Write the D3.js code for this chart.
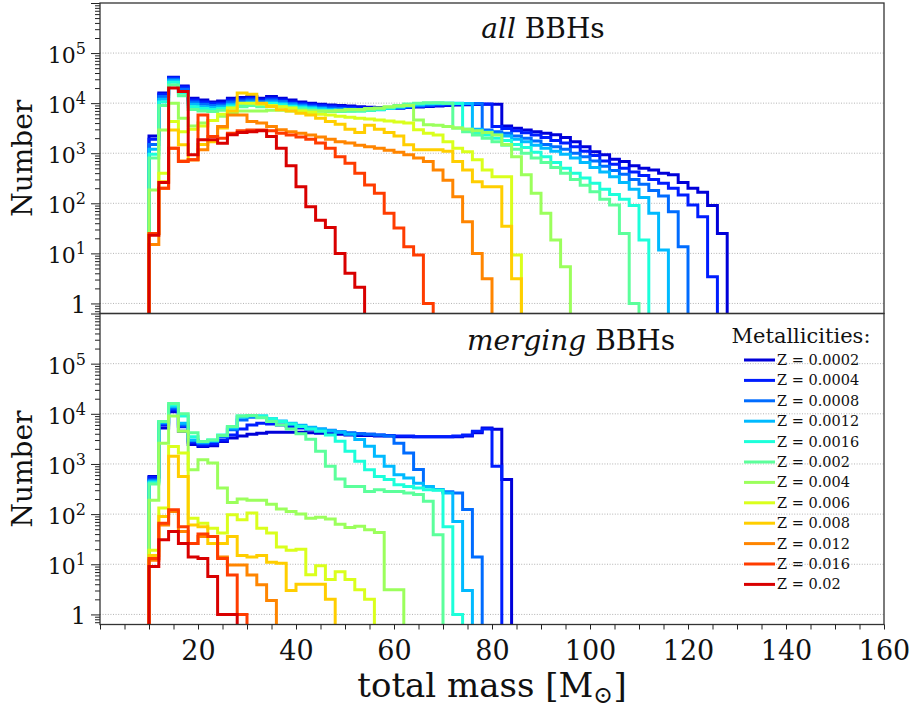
<!DOCTYPE html>
<html>
<head>
<meta charset="utf-8">
<script src="https://cdn.jsdelivr.net/npm/d3@7"></script>
<style>
  body { margin: 0; background: #fff; }
  text { font-family: "DejaVu Serif", serif; fill: #111; }
</style>
</head>
<body>
<svg id="chart" width="913" height="708"></svg>
<script>
// bin edges of the total-mass histograms (Msun)
var massEdges = [10, 12, 14, 16, 18, 20, 22, 24, 26, 28, 30, 32, 34, 36, 38, 40, 42, 44, 46, 48,
  50, 52, 54, 56, 58, 60, 62, 64, 66, 68, 70, 72, 74, 76, 78, 80, 82, 84, 86, 88,
  90, 92, 94, 96, 98, 100, 102, 104, 106, 108, 110, 112, 114, 116, 118, 120, 122, 124, 126, 128];

var metallicities = ["0.0002", "0.0004", "0.0008", "0.0012", "0.0016", "0.002",
  "0.004", "0.006", "0.008", "0.012", "0.016", "0.02"];
var colours = ["#0000d9", "#001dff", "#006cff", "#00baff", "#1cffda", "#5cff9b",
  "#9bff5c", "#daff1c", "#ffce00", "#ff8500", "#ff3c00", "#d90000"];

// counts per bin, first bin starts at 10 Msun -- all BBHs
var allZ0002 = [2200, 16000, 33000, 22000, 12500, 11500, 10500, 11000, 12500, 13000,
  13500, 12500, 13500, 12500, 11500, 10500, 10000, 9500, 9200, 9000,
  8800, 8500, 8300, 8200, 8000, 8000, 8200, 8400, 8600, 8800,
  9000, 9200, 9300, 9400, 9500, 9500, 3500, 3150, 2900, 2700,
  2500, 2330, 2050, 1700, 1350, 1070, 930, 760, 680, 565,
  500, 465, 400, 370, 260, 200, 166, 90, 25];
var allZ0004 = [1900, 15000, 32000, 21000, 11500, 10500, 9800, 10000, 11500, 12000,
  12500, 11500, 12500, 11500, 10500, 9800, 9300, 9000, 8700, 8500,
  8300, 8000, 7900, 7900, 7900, 8000, 8300, 8600, 8900, 9100,
  9300, 9400, 9500, 9500, 9600, 3400, 3100, 2800, 2550, 2300,
  2050, 1800, 1600, 1350, 1100, 900, 700, 600, 500, 420,
  360, 300, 250, 200, 147, 93, 54, 3.4];
var allZ0008 = [1500, 13500, 30000, 19000, 10500, 9500, 9000, 9200, 10500, 11000,
  11500, 10800, 11500, 10800, 9800, 9200, 8700, 8300, 8000, 7800,
  7600, 7400, 7400, 7500, 7800, 8100, 8500, 8900, 9200, 9500,
  9700, 9800, 9800, 9800, 2900, 2700, 2500, 2200, 2000, 1750,
  1500, 1350, 1200, 1000, 850, 700, 550, 450, 380, 300,
  240, 180, 140, 68, 13.5];
var allZ0012 = [1200, 12000, 28000, 17000, 9500, 8500, 8200, 8500, 9500, 10000,
  10500, 10000, 10500, 10000, 9200, 8700, 8200, 7800, 7500, 7300,
  7200, 7100, 7200, 7400, 7800, 8300, 8800, 9300, 9700, 10000,
  10000, 10000, 9800, 3000, 2700, 2400, 2200, 1900, 1700, 1450,
  1250, 1100, 950, 800, 650, 520, 420, 340, 260, 190,
  130, 63, 11.7];
var allZ0016 = [950, 10500, 26000, 16000, 8500, 7800, 7500, 7800, 8800, 9300,
  9800, 9300, 9800, 9300, 8600, 8100, 7700, 7300, 7100, 7000,
  7000, 7000, 7200, 7500, 8000, 8600, 9200, 9700, 10000, 10000,
  10000, 9800, 3000, 2600, 2300, 2000, 1800, 1500, 1300, 1050,
  850, 650, 500, 400, 320, 250, 190, 150, 120, 90,
  18.5];
var allZ002 = [800, 9000, 23000, 14000, 7500, 7000, 6800, 7200, 8000, 8500,
  9000, 8500, 9000, 8500, 8000, 7600, 7200, 6900, 6800, 6800,
  6900, 7000, 7300, 7700, 8300, 9000, 9600, 10000, 10200, 10200,
  10000, 3200, 2700, 2300, 2000, 1700, 1450, 1200, 1000, 800,
  650, 520, 400, 300, 230, 170, 120, 93, 25, 1];
var allZ004 = [185, 2900, 10000, 5000, 3500, 4000, 4500, 5500, 6500, 7000,
  7000, 7000, 7200, 7200, 7000, 7000, 7000, 7000, 7000, 7200,
  7500, 7500, 7800, 8000, 8500, 8800, 9000, 4600, 3700, 3600,
  3400, 3200, 3000, 2800, 2600, 2300, 1500, 850, 370, 158,
  63, 18.5, 5.4];
var allZ006 = [25, 400, 4300, 2700, 3000, 3500, 4500, 6000, 8000, 10000,
  10000, 9500, 9000, 8500, 8000, 7000, 6500, 6000, 5800, 5500,
  5200, 5000, 4800, 4600, 4400, 4200, 4000, 2950, 2500, 2300,
  1700, 1260, 1070, 740, 465, 340, 340, 9.3];
var allZ008 = [25, 270, 2900, 1470, 740, 1500, 1700, 3200, 7000, 16000,
  15000, 10000, 8600, 7400, 7000, 6300, 5800, 5000, 4300, 3800,
  3000, 2600, 3600, 3000, 2600, 2200, 1480, 1175, 1175, 1175,
  1100, 680, 465, 270, 215, 215, 35, 3.1];
var allZ012 = [15, 200, 1260, 700, 740, 1170, 2150, 3400, 5800, 5800,
  4300, 4000, 3400, 2950, 2700, 2500, 2300, 2100, 1900, 1700,
  1600, 1450, 1350, 1250, 1150, 1050, 930, 800, 680, 465,
  290, 135, 43, 10, 3.1];
var allZ016 = [25, 200, 1260, 680, 740, 5800, 2150, 2000, 2500, 2800,
  2900, 2900, 2800, 2500, 2300, 2100, 1900, 1600, 1260, 850,
  630, 400, 233, 158, 63, 32, 13.5, 9.3, 1];
var allZ02 = [23, 260, 20000, 17000, 930, 1860, 1860, 1580, 2340, 2600,
  2700, 2800, 2150, 1260, 560, 215, 85, 46, 33, 10,
  4, 2.1];

// merging BBHs
var mergZ0002 = [560, 5200, 11000, 4500, 2450, 2240, 2300, 2800, 3300, 3600,
  3900, 4100, 4300, 4300, 4300, 4300, 4200, 4100, 4000, 3900,
  3800, 3700, 3700, 3600, 3600, 3500, 3500, 3500, 3500, 3500,
  3500, 3500, 3600, 4200, 5200, 4900, 490];
var mergZ0004 = [540, 6000, 12000, 5500, 2700, 2400, 2500, 3000, 3800, 5000,
  6000, 6500, 6300, 6000, 5600, 5200, 4900, 4700, 4500, 4300,
  4100, 4000, 3900, 3800, 3700, 3600, 3600, 3500, 3500, 3500,
  3500, 3600, 3800, 4500, 5000, 900];
var mergZ0008 = [480, 6500, 13000, 6000, 2900, 2600, 2800, 3500, 4800, 7500,
  8500, 8500, 7800, 7000, 6300, 5800, 5300, 5000, 4700, 4400,
  4200, 4000, 3900, 3800, 3600, 2600, 1660, 780, 350, 310,
  280, 263, 123, 14];
var mergZ0012 = [450, 6800, 14000, 6500, 3000, 2700, 2900, 3700, 5200, 8500,
  9000, 9000, 8000, 7200, 6500, 5900, 5400, 5000, 4600, 4300,
  3900, 3070, 2250, 1420, 900, 610, 525, 415, 355, 307,
  263, 71, 3];
var mergZ0016 = [420, 7000, 15000, 9000, 3500, 2800, 3000, 3800, 5500, 9000,
  9300, 9000, 8000, 7000, 6300, 5600, 5000, 4500, 3800, 2840,
  1800, 1130, 770, 565, 490, 385, 355, 330, 307, 300,
  56, 1];
var mergZ002 = [400, 7000, 16000, 10000, 4200, 2800, 3000, 3700, 5600, 9000,
  9300, 8300, 7000, 6000, 5000, 4000, 3100, 1800, 900, 500,
  355, 355, 283, 307, 283, 283, 263, 245, 180, 39];
var mergZ004 = [190, 2600, 9000, 4500, 770, 1220, 1050, 330, 170, 200,
  190, 190, 158, 126, 113, 100, 83, 87, 80, 63,
  54, 57, 49, 43, 3.1, 3.1];
var mergZ006 = [19, 132, 2240, 1660, 83, 66, 52, 42, 97, 77,
  105, 52, 42, 22, 19, 20, 6.2, 9.3, 5, 7.1,
  5, 3.1, 2];
var mergZ008 = [15, 90, 1420, 565, 61, 56, 26, 26, 36, 15,
  14, 15, 11, 10.5, 3, 4, 4, 4, 2];
var mergZ012 = [12, 61, 113, 45, 26, 36, 36, 14, 9.7, 9.7, 6.1, 3.9, 1.9];
var mergZ016 = [13, 66, 122, 56, 26, 40, 36, 13, 6.1, 1];
var mergZ02 = [9, 31, 45, 26, 14, 13, 5.7, 1, 1];

var allSeries = [allZ0002, allZ0004, allZ0008, allZ0012, allZ0016, allZ002,
  allZ004, allZ006, allZ008, allZ012, allZ016, allZ02];
var mergSeries = [mergZ0002, mergZ0004, mergZ0008, mergZ0012, mergZ0016, mergZ002,
  mergZ004, mergZ006, mergZ008, mergZ012, mergZ016, mergZ02];

var majorY = [1, 10, 100, 1000, 10000, 100000];

var svg = d3.select("#chart");
var left = 100, right = 884;

var x = d3.scaleLinear().domain([0, 160]).range([left, right]);

var panels = [
  { id: "top", series: allSeries, y: d3.scaleLog().domain([0.63, 1e6]).range([313.5, 3]) },
  { id: "bot", series: mergSeries, y: d3.scaleLog().domain([0.63, 1e6]).range([624.5, 313.5]) }
];

panels.forEach(function(p) {
  var y = p.y;
  var y0 = y.range()[0], y1 = y.range()[1];
  var g = svg.append("g");

  svg.append("clipPath").attr("id", "clip-" + p.id)
    .append("rect").attr("x", left).attr("y", y1).attr("width", right - left).attr("height", y0 - y1);

  // dotted grid at each decade
  g.selectAll(".grid").data(majorY).enter().append("line")
    .attr("x1", left).attr("x2", right)
    .attr("y1", function(d) { return y(d); }).attr("y2", function(d) { return y(d); })
    .attr("stroke", "#aaa").attr("stroke-width", 0.9).attr("stroke-dasharray", "1,1.6");

  // step histograms
  var line = d3.line().x(function(d) { return d[0]; }).y(function(d) { return d[1]; });
  var hg = g.append("g").attr("clip-path", "url(#clip-" + p.id + ")");
  p.series.forEach(function(vals, k) {
    var pts = [[x(massEdges[0]), y0 + 5]];
    vals.forEach(function(v, i) {
      pts.push([x(massEdges[i]), y(v)]);
      pts.push([x(massEdges[i] + 2), y(v)]);
    });
    pts.push([x(massEdges[vals.length - 1] + 2), y0 + 5]);
    hg.append("path").attr("d", line(pts))
      .attr("fill", "none").attr("stroke", colours[k])
      .attr("stroke-width", 3).attr("stroke-linejoin", "miter");
  });

  // y axis: minor + major ticks
  var minor = [];
  for (var e = -1; e < 6; e++) {
    for (var m = 2; m < 10; m++) {
      var v = m * Math.pow(10, e);
      if (v >= 0.63 && v <= 1e6) minor.push(v);
    }
  }
  g.append("g").attr("transform", "translate(" + left + ",0)")
    .call(d3.axisLeft(y).tickValues(minor).tickSize(5).tickFormat(""))
    .call(function(a) { a.select(".domain").remove(); });
  g.append("g").attr("transform", "translate(" + left + ",0)")
    .call(d3.axisLeft(y).tickValues(majorY.concat([1e6])).tickSize(9).tickFormat(""))
    .call(function(a) { a.select(".domain").remove(); });
  g.selectAll(".tick line").attr("stroke", "#222").attr("stroke-width", 1);

  majorY.forEach(function(d, i) {
    var t = g.append("text").attr("x", 86).attr("y", y(d) + 10).attr("text-anchor", "end");
    if (i === 0) {
      t.attr("font-size", 24).text("1");
    } else {
      t.append("tspan").attr("font-size", 22).text("10");
      t.append("tspan").attr("font-size", 16).attr("dy", -9).text(i);
    }
  });

  g.append("text")
    .attr("transform", "translate(22," + ((y0 + y1) / 2) + ") rotate(-90)")
    .attr("text-anchor", "middle").attr("dominant-baseline", "central")
    .attr("font-size", 28).text("Number");

  // frame
  g.append("rect").attr("x", left).attr("y", y1).attr("width", right - left).attr("height", y0 - y1)
    .attr("fill", "none").attr("stroke", "#333").attr("stroke-width", 1.3);
});

// panel titles
var t1 = svg.append("text").attr("x", 543).attr("y", 38).attr("text-anchor", "middle").attr("font-size", 28);
t1.append("tspan").attr("font-style", "italic").text("all");
t1.append("tspan").text(" BBHs");
var t2 = svg.append("text").attr("x", 571).attr("y", 350).attr("text-anchor", "middle").attr("font-size", 28);
t2.append("tspan").attr("font-style", "italic").text("merging");
t2.append("tspan").text(" BBHs");

// x axis at the bottom of the lower panel
var xg = svg.append("g").attr("transform", "translate(0,624.5)")
  .call(d3.axisBottom(x).tickValues(d3.range(0, 161, 5)).tickSize(5).tickPadding(11)
    .tickFormat(function(d) { return (d > 0 && d % 20 === 0) ? d : ""; }));
xg.select(".domain").remove();
xg.selectAll(".tick line").attr("stroke", "#222");
xg.selectAll(".tick text").attr("font-size", 27).attr("font-family", "DejaVu Serif").attr("fill", "#111");

var xl = svg.append("text").attr("x", 492).attr("y", 697).attr("text-anchor", "middle").attr("font-size", 34);
xl.append("tspan").text("total mass [M");
xl.append("tspan").attr("font-size", 24).attr("dy", 6).text("\u2299");
xl.append("tspan").attr("dy", -6).text("]");

// legend
var lg = svg.append("g");
lg.append("text").attr("x", 801).attr("y", 343).attr("text-anchor", "middle").attr("font-size", 21).text("Metallicities:");
metallicities.forEach(function(z, i) {
  var yy = 360 + i * 20.4;
  lg.append("line").attr("x1", 744).attr("x2", 775).attr("y1", yy).attr("y2", yy)
    .attr("stroke", colours[i]).attr("stroke-width", 3);
  lg.append("text").attr("x", 777).attr("y", yy + 5).attr("font-size", 14.5).text("Z = " + z);
});
</script>
</body>
</html>
